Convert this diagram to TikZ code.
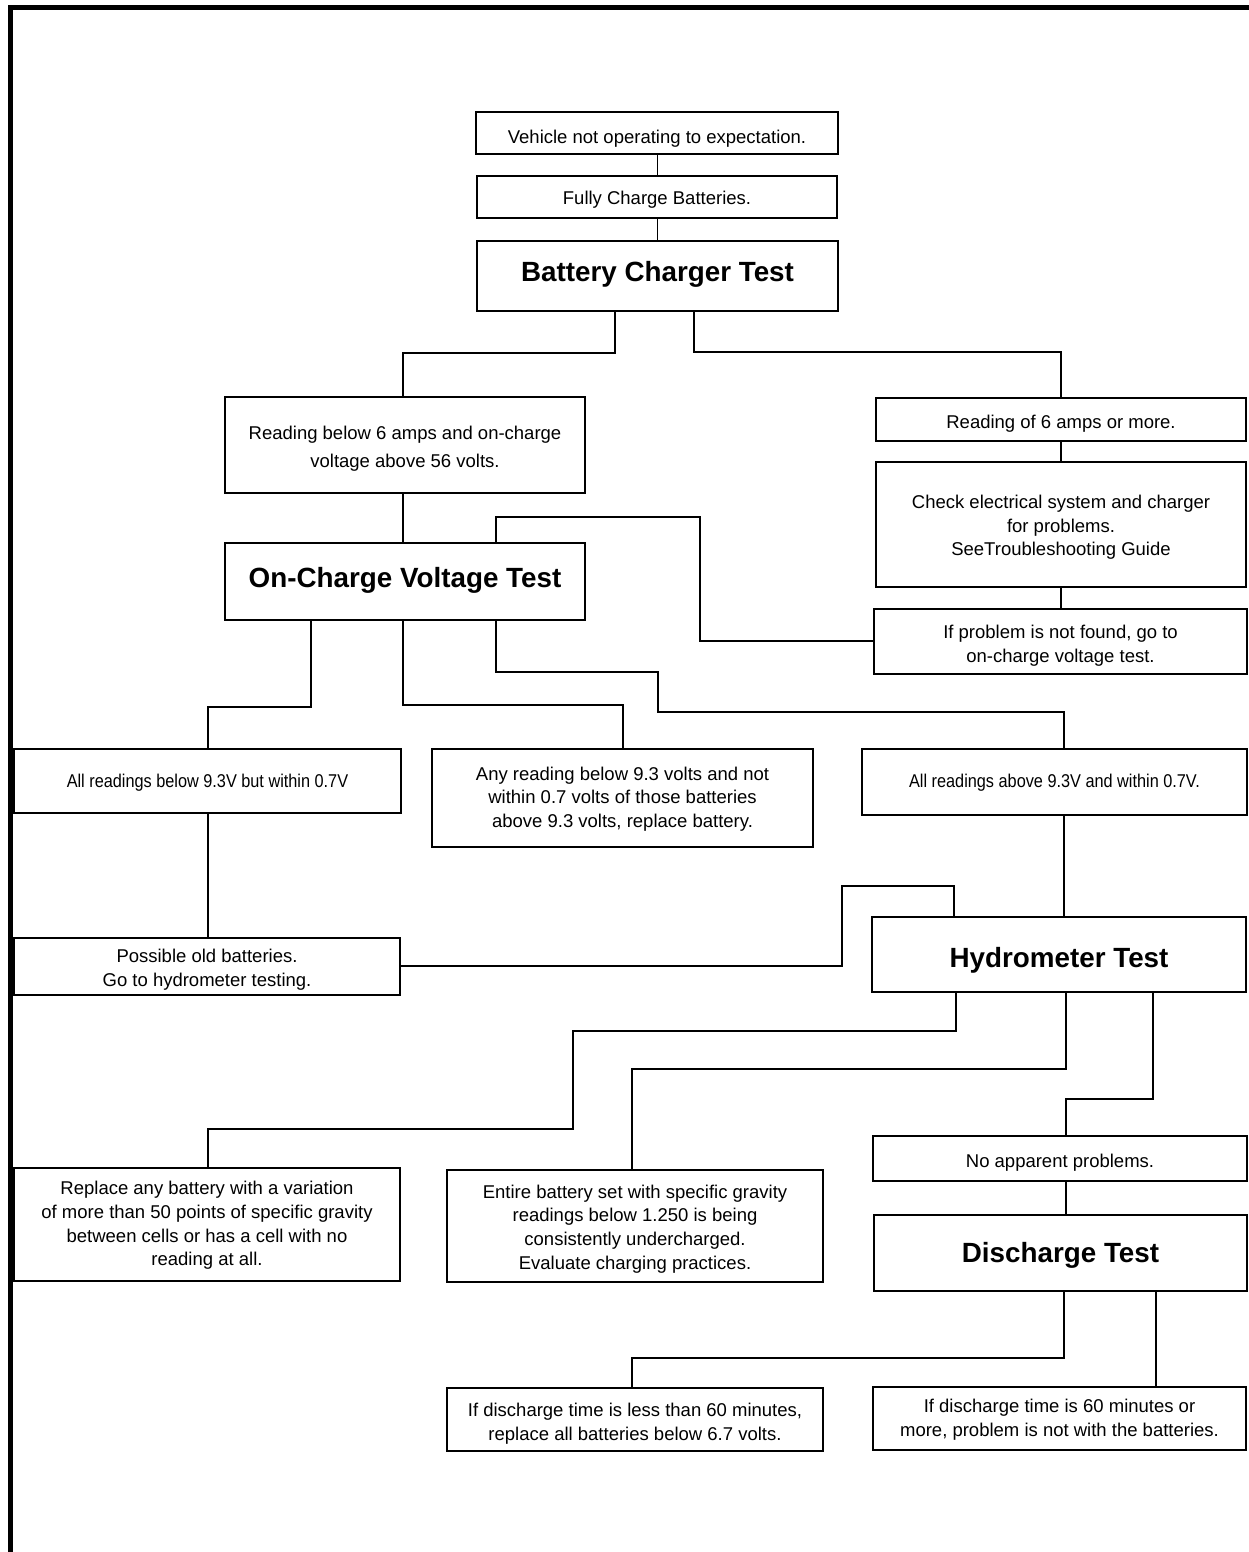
\documentclass[tikz,border=0pt]{standalone}
\usepackage{fontspec}
\setmainfont{Liberation Sans}
\newfontfamily\narrowfont[FakeStretch=0.88]{Liberation Sans}
\begin{document}
\begin{tikzpicture}[x=1pt,y=-1pt,
  box/.style={draw,line width=1.6pt,inner sep=0pt},
  txt/.style={inner sep=0pt,align=center,font=\fontsize{18.5}{23.7}\selectfont},
  titletxt/.style={txt,font=\bfseries\fontsize{27.8}{32}\selectfont},
  narrowtxt/.style={txt,font=\narrowfont\fontsize{18.5}{23.7}\selectfont},
  widetxt/.style={txt,font=\fontsize{18.5}{28}\selectfont},
  conn/.style={draw,line width=1.4pt,line cap=rect}]
% \bx[text style]{name}{x1}{y1}{x2}{y2}{text shift down}{text}
\newcommand\bx[8][txt]{%
  \node[box,minimum width={#5pt-#3pt},minimum height={#6pt-#4pt}] (#2) at ({(#3+#5)/2},{(#4+#6)/2}) {};
  \node[#1] (#2t) at ({(#3+#5)/2},{(#4+#6)/2+#7}) {#8};}
\useasboundingbox (0,0) rectangle (1249,1552);
\fill (8,5) rectangle (1249,10);
\fill (8,5) rectangle (13,1552);

\bx{veh}{476}{112}{838}{154}{5.5}{Vehicle not operating to expectation.}
\bx{full}{477}{176}{837}{218}{3}{Fully Charge Batteries.}
\bx[titletxt]{bct}{477}{241}{838}{311}{-2}{Battery Charger Test}
\bx[widetxt]{rb}{225}{397}{585}{493}{3.5}{Reading below 6 amps and on-charge\\voltage above 56 volts.}
\bx{ro}{876}{398}{1246}{441}{4}{Reading of 6 amps or more.}
\bx{chk}{876}{462}{1246}{587}{3}{Check electrical system and charger\\for problems.\\SeeTroubleshooting Guide}
\bx{ifp}{874}{609}{1247}{674}{4.5}{If problem is not found, go to\\on-charge voltage test.}
\bx[titletxt]{ocvt}{225}{543}{585}{620}{-1}{On-Charge Voltage Test}
\bx[narrowtxt]{arb}{14}{749}{401}{813}{1.5}{All readings below 9.3V but within 0.7V}
\bx{any}{432}{749}{813}{847}{1}{Any reading below 9.3 volts and not\\within 0.7 volts of those batteries\\above 9.3 volts, replace battery.}
\bx[narrowtxt]{ara}{862}{749}{1247}{815}{1}{All readings above 9.3V and within 0.7V.}
\bx{pob}{14}{938}{400}{995}{3.5}{Possible old batteries.\\Go to hydrometer testing.}
\bx[titletxt]{hyd}{872}{917}{1246}{992}{6}{Hydrometer Test}
\bx{rep}{14}{1168}{400}{1281}{1}{Replace any battery with a variation\\of more than 50 points of specific gravity\\between cells or has a cell with no\\reading at all.}
\bx{ent}{447}{1170}{823}{1282}{3}{Entire battery set with specific gravity\\readings below 1.250 is being\\consistently undercharged.\\Evaluate charging practices.}
\bx{nap}{873}{1136}{1247}{1181}{4}{No apparent problems.}
\bx[titletxt]{dis}{874}{1215}{1247}{1291}{2}{Discharge Test}
\bx{ifl}{447}{1388}{823}{1451}{4}{If discharge time is less than 60 minutes,\\replace all batteries below 6.7 volts.}
\bx{ifm}{873}{1387}{1246}{1450}{1}{If discharge time is 60 minutes or\\more, problem is not with the batteries.}

% connectors
\coordinate (c1) at (657.5,165);
\draw[conn] (veh.south -| c1) -- (full.north -| c1);
\draw[conn] (full.south -| c1) -- (bct.north -| c1);

\coordinate (c3a) at (615,353); \coordinate (c3b) at (403,353);
\draw[conn] (bct.south -| c3a) -- (c3a) -- (c3b) -- (c3b |- rb.north);

\coordinate (c4a) at (694,352); \coordinate (c4b) at (1061,352);
\draw[conn] (bct.south -| c4a) -- (c4a) -- (c4b) -- (c4b |- ro.north);

\coordinate (c5) at (1061,450);
\draw[conn] (ro.south -| c5) -- (chk.north -| c5);
\draw[conn] (chk.south -| c5) -- (ifp.north -| c5);

\coordinate (c7a) at (700,641); \coordinate (c7b) at (700,517); \coordinate (c7c) at (496,517);
\draw[conn] (ifp.west |- c7a) -- (c7a) -- (c7b) -- (c7c) -- (c7c |- ocvt.north);

\coordinate (c8) at (403,520);
\draw[conn] (rb.south -| c8) -- (ocvt.north -| c8);

\coordinate (c9a) at (311,707); \coordinate (c9b) at (208,707);
\draw[conn] (ocvt.south -| c9a) -- (c9a) -- (c9b) -- (c9b |- arb.north);

\coordinate (c10a) at (403,705); \coordinate (c10b) at (623,705);
\draw[conn] (ocvt.south -| c10a) -- (c10a) -- (c10b) -- (c10b |- any.north);

\coordinate (c11a) at (496,672); \coordinate (c11b) at (658,672);
\coordinate (c11c) at (658,712); \coordinate (c11d) at (1064,712);
\draw[conn] (ocvt.south -| c11a) -- (c11a) -- (c11b) -- (c11c) -- (c11d) -- (c11d |- ara.north);

\coordinate (c12) at (208,880);
\draw[conn] (arb.south -| c12) -- (pob.north -| c12);

\coordinate (c13a) at (842,966); \coordinate (c13b) at (842,886); \coordinate (c13c) at (954,886);
\draw[conn] (pob.east |- c13a) -- (c13a) -- (c13b) -- (c13c) -- (c13c |- hyd.north);

\coordinate (c14) at (1064,860);
\draw[conn] (ara.south -| c14) -- (hyd.north -| c14);

\coordinate (c15a) at (956,1031); \coordinate (c15b) at (573,1031);
\coordinate (c15c) at (573,1129); \coordinate (c15d) at (208,1129);
\draw[conn] (hyd.south -| c15a) -- (c15a) -- (c15b) -- (c15c) -- (c15d) -- (c15d |- rep.north);

\coordinate (c16a) at (1066,1069); \coordinate (c16b) at (632,1069);
\draw[conn] (hyd.south -| c16a) -- (c16a) -- (c16b) -- (c16b |- ent.north);

\coordinate (c17a) at (1153,1099); \coordinate (c17b) at (1066,1099);
\draw[conn] (hyd.south -| c17a) -- (c17a) -- (c17b) -- (c17b |- nap.north);

\coordinate (c18) at (1066,1200);
\draw[conn] (nap.south -| c18) -- (dis.north -| c18);

\coordinate (c19a) at (1064,1358); \coordinate (c19b) at (632,1358);
\draw[conn] (dis.south -| c19a) -- (c19a) -- (c19b) -- (c19b |- ifl.north);

\coordinate (c20) at (1156,1340);
\draw[conn] (dis.south -| c20) -- (ifm.north -| c20);
\end{tikzpicture}
\end{document}
